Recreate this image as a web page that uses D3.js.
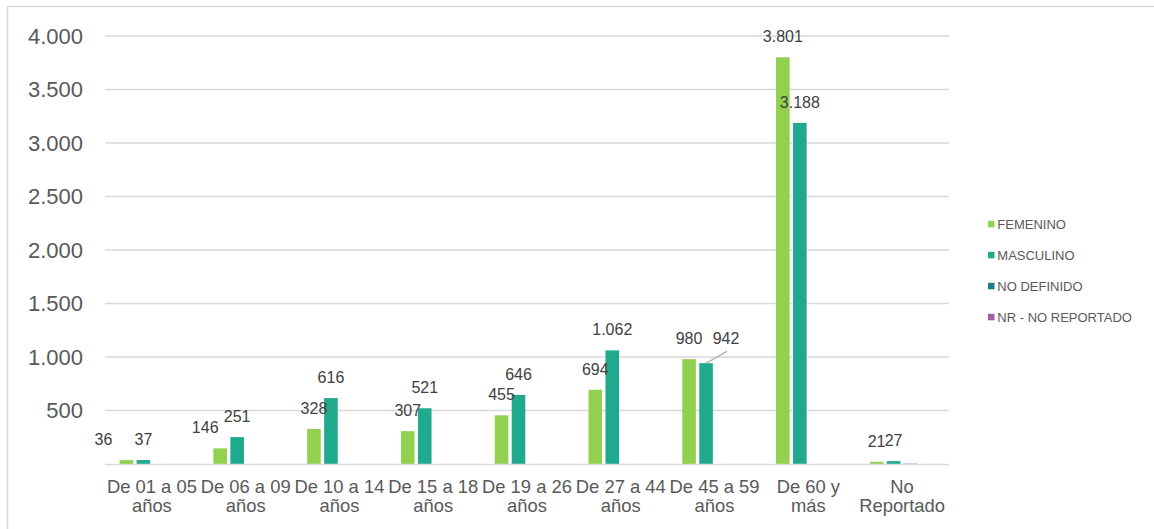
<!DOCTYPE html>
<html><head><meta charset="utf-8">
<script src="https://cdn.jsdelivr.net/npm/d3@7"></script>
<style>body{margin:0;background:#fff;}svg{display:block;font-family:"Liberation Sans",Arial,sans-serif;}</style>
</head><body><svg id="c" width="1154" height="529"></svg>
<script>
const categories = [["De 01 a 05","años"],["De 06 a 09","años"],["De 10 a 14","años"],["De 15 a 18","años"],["De 19 a 26","años"],["De 27 a 44","años"],["De 45 a 59","años"],["De 60 y","más"],["No","Reportado"]];
const seriesNames = ["FEMENINO","MASCULINO","NO DEFINIDO","NR - NO REPORTADO"];
const femenino = [36,146,328,307,455,694,980,3801,21];
const masculino = [37,251,616,521,646,1062,942,3188,27];
const noDefinido = [0,0,0,0,0,0,0,0,3];
const nrNoReportado = [0,0,0,0,0,0,0,0,0];
const yTicks = [500,1000,1500,2000,2500,3000,3500,4000];
// horizontal label shifts (px) for labels that were dragged aside in the original
const femLabelShift = [-23,-15,0,0,0,0,0,0,0];
const masLabelShift = [0,0,0,0,0,0,20,0,0];

const colors = ["#92D050","#1FAA8E","#217F8D","#A65FA0"];
const values = [femenino, masculino, noDefinido, nrNoReportado];
const svg = d3.select("#c");
svg.append("rect").attr("x",7.5).attr("y",6.5).attr("width",1160).attr("height",540)
  .attr("fill","none").attr("stroke","#d9d9d9").attr("stroke-width",1.5);

const L=105, R=949, T=36, B=464;
const x = d3.scaleBand().domain(d3.range(categories.length)).range([L,R]).paddingInner(0).paddingOuter(0);
const xs = d3.scaleBand().domain(d3.range(4)).range([0,x.bandwidth()]).paddingInner(0.2).paddingOuter(0.86);
const y = d3.scaleLinear().domain([0,4000]).range([B,T]);

const grid = svg.append("g");
grid.selectAll("line").data(yTicks).join("line")
  .attr("x1",L).attr("x2",R).attr("y1",d=>y(d)).attr("y2",d=>y(d))
  .attr("stroke","#d9d9d9").attr("stroke-width",1.3);

const fmt = d=>d3.format(",")(d).replace(/,/g,".");
const yAxis = svg.append("g").attr("transform",`translate(${L},0)`)
  .call(d3.axisLeft(y).tickValues(yTicks).tickSize(0).tickPadding(22).tickFormat(fmt));
yAxis.select(".domain").remove();
yAxis.selectAll("text").attr("font-size",22).attr("fill","#595959").attr("font-family","Liberation Sans, Arial, sans-serif");

const bars = svg.append("g");
values.forEach((vals,s)=>{
  bars.selectAll(null).data(vals).join("rect")
    .attr("x",(d,i)=>x(i)+xs(s)).attr("width",xs.bandwidth())
    .attr("y",d=>y(d)).attr("height",d=>B-y(d)).attr("fill",colors[s]);
});

// baseline
svg.append("line").attr("x1",L).attr("x2",R).attr("y1",B+0.5).attr("y2",B+0.5).attr("stroke","#d9d9d9").attr("stroke-width",1.5);

// x axis labels
const xa = svg.append("g");
categories.forEach((c,i)=>{
  const cx = x(i)+x.bandwidth()/2;
  const t = xa.append("text").attr("x",cx).attr("y",B+29)
    .attr("text-anchor","middle").attr("font-size",18.4).attr("fill","#595959");
  t.append("tspan").attr("x",cx).text(c[0]);
  t.append("tspan").attr("x",cx).attr("dy",19).text(c[1]);
});

const lab = svg.append("g").attr("font-size",16).attr("fill","#404040").attr("text-anchor","middle");
[femenino, masculino].forEach((vals,s)=>{
  const sh = s===0?femLabelShift:masLabelShift;
  vals.forEach((v,i)=>{
    const cx = x(i)+xs(s)+xs.bandwidth()/2;
    const lift = sh[i]>0 ? 19 : 15;
    lab.append("text").attr("x",cx+sh[i]).attr("y",y(v)-lift).text(fmt(v));
  });
});
// leader line for shifted masculino label
masculino.forEach((v,i)=>{
  if(masLabelShift[i]>0){
    const cx = x(i)+xs(1)+xs.bandwidth()/2;
    svg.append("line").attr("x1",cx).attr("y1",y(v)).attr("x2",cx+masLabelShift[i]+1).attr("y2",y(v)-12)
      .attr("stroke","#a6a6a6").attr("stroke-width",1.2);
  }
});

// legend
const lg = svg.append("g").attr("transform","translate(988,224)");
seriesNames.forEach((n,k)=>{
  const g = lg.append("g").attr("transform",`translate(0,${k*31})`);
  g.append("rect").attr("x",0).attr("y",-3.2).attr("width",6.5).attr("height",6.5).attr("fill",colors[k]);
  g.append("text").attr("x",9.3).attr("y",4.7).attr("font-size",13).attr("fill","#595959").text(n);
});
</script></body></html>
